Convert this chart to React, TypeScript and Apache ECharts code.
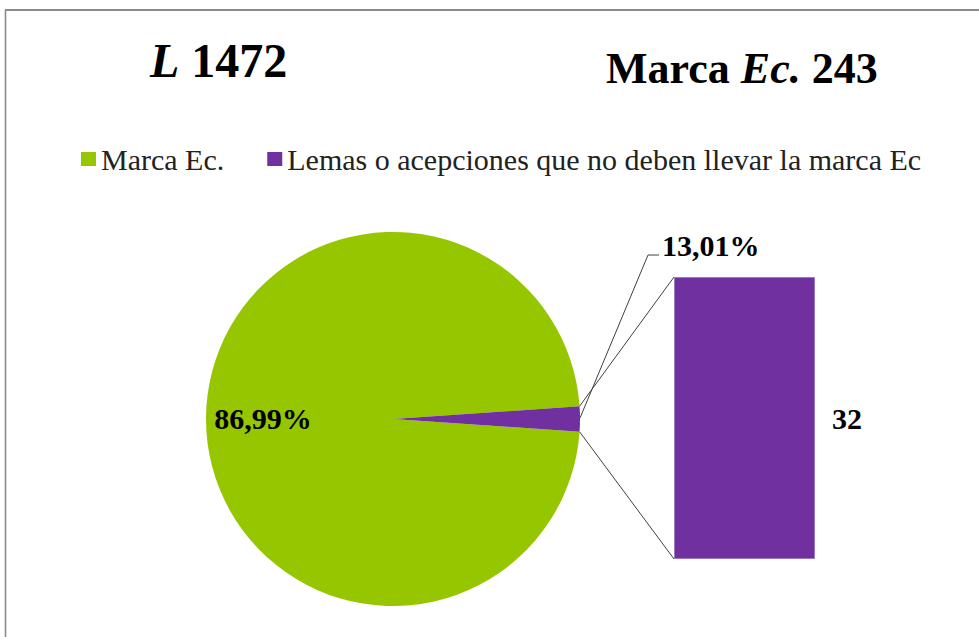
import React, { useEffect, useRef } from "react";
import * as echarts from "echarts";

const categories = ["Marca Ec.", "Lemas o acepciones que no deben llevar la marca Ec"];
const pieValues = [1440, 32];
const pieLabels = ["86,99%", "13,01%"];
const barCategories = ["Lemas o acepciones que no deben llevar la marca Ec"];
const barValues = [32];
const totalLemas = 1472;
const totalMarca = 243;

const GREEN = "#95C600";
const PURPLE = "#7030A0";
const FONT = "'Liberation Serif', 'Times New Roman', serif";

export default function App() {
  const ref = useRef<HTMLDivElement>(null);

  useEffect(() => {
    if (!ref.current) return;
    const chart = echarts.init(ref.current, undefined, { renderer: "svg" });

    const cx = 393;
    const cy = 419;
    const r = 187;
    const sum = pieValues.reduce((a, b) => a + b, 0);
    const half = (pieValues[1] / sum) * 180;
    const halfRad = (half * Math.PI) / 180;
    const topPt = [cx + r * Math.cos(halfRad), cy - r * Math.sin(halfRad)];
    const botPt = [cx + r * Math.cos(halfRad), cy + r * Math.sin(halfRad)];
    const barLeft = 674;
    const barTop = 277;
    const barW = 141;
    const barH = 282;

    chart.setOption({
      animation: false,
      textStyle: { fontFamily: FONT },
      legend: {
        data: categories,
        left: 76,
        top: 139,
        icon: "rect",
        itemWidth: 15,
        itemHeight: 14,
        itemGap: 43,
        textStyle: { fontFamily: FONT, fontSize: 30, color: "#222", lineHeight: 30 },
      },
      grid: { left: barLeft, top: barTop, width: barW, height: barH },
      xAxis: { type: "category", data: barCategories, show: false },
      yAxis: { type: "value", min: 0, max: barValues[0], show: false },
      series: [
        {
          type: "pie",
          center: [cx, cy],
          radius: r,
          startAngle: -half,
          clockwise: true,
          silent: true,
          data: categories.map((name, i) => ({
            name,
            value: pieValues[i],
            itemStyle: { color: i === 0 ? GREEN : PURPLE },
            label: {
              show: true,
              position: i === 0 ? "inside" : "outside",
              formatter: pieLabels[i],
              fontFamily: FONT,
              fontSize: 30,
              fontWeight: "bold",
              color: "#000",
            },
            labelLine: {
              show: i === 1,
              lineStyle: { color: "#404040", width: 1 },
            },
          })),
          labelLayout: (params: any) => {
            if (params.dataIndex === 0) {
              return { x: 263, y: 418.5, align: "center", verticalAlign: "middle" };
            }
            return {
              x: 662,
              y: 245,
              align: "left",
              verticalAlign: "middle",
              labelLinePoints: [
                [cx + r, cy - 1],
                [648, 255],
                [659, 255],
              ],
            };
          },
        },
        {
          type: "bar",
          data: barValues,
          barWidth: "100%",
          barCategoryGap: 0,
          silent: true,
          itemStyle: { color: PURPLE, borderColor: "#9a7ac0", borderWidth: 1 },
          label: {
            show: true,
            position: "right",
            distance: 17,
            fontFamily: FONT,
            fontSize: 30,
            fontWeight: "bold",
            color: "#000",
          },
        },
      ],
      graphic: [
        {
          type: "line",
          shape: { x1: 5.5, y1: 10, x2: 5.5, y2: 700 },
          style: { stroke: "#8a8a8a", lineWidth: 1.6 },
          silent: true,
        },
        {
          type: "line",
          shape: { x1: 5, y1: 10, x2: 1000, y2: 10 },
          style: { stroke: "#8a8a8a", lineWidth: 2 },
          silent: true,
        },
        {
          type: "line",
          shape: { x1: topPt[0], y1: topPt[1], x2: barLeft, y2: barTop },
          style: { stroke: "#404040", lineWidth: 1 },
          silent: true,
          z: 10,
        },
        {
          type: "line",
          shape: { x1: botPt[0], y1: botPt[1], x2: barLeft, y2: barTop + barH },
          style: { stroke: "#404040", lineWidth: 1 },
          silent: true,
          z: 10,
        },
        {
          type: "text",
          x: 150,
          y: 60,
          style: {
            text: "{i|L} {b|" + totalLemas + "}",
            verticalAlign: "middle",
            rich: {
              i: { fontFamily: FONT, fontSize: 48, fontWeight: "bold", fontStyle: "italic", fill: "#000" },
              b: { fontFamily: FONT, fontSize: 48, fontWeight: "bold", fill: "#000" },
            },
            fontFamily: FONT,
            fontSize: 48,
            fontWeight: "bold",
          },
        },
        {
          type: "text",
          x: 606,
          y: 68,
          style: {
            text: "{b|Marca }{i|Ec.}{b| " + totalMarca + "}",
            verticalAlign: "middle",
            rich: {
              i: { fontFamily: FONT, fontSize: 44, fontWeight: "bold", fontStyle: "italic", fill: "#000" },
              b: { fontFamily: FONT, fontSize: 44, fontWeight: "bold", fill: "#000" },
            },
            fontFamily: FONT,
            fontSize: 44,
            fontWeight: "bold",
          },
        },
      ],
    });

    return () => chart.dispose();
  }, []);

  return (
    <div
      ref={ref}
      style={{ position: "fixed", left: 0, top: 0, width: 979, height: 637, background: "#fff" }}
    />
  );
}
